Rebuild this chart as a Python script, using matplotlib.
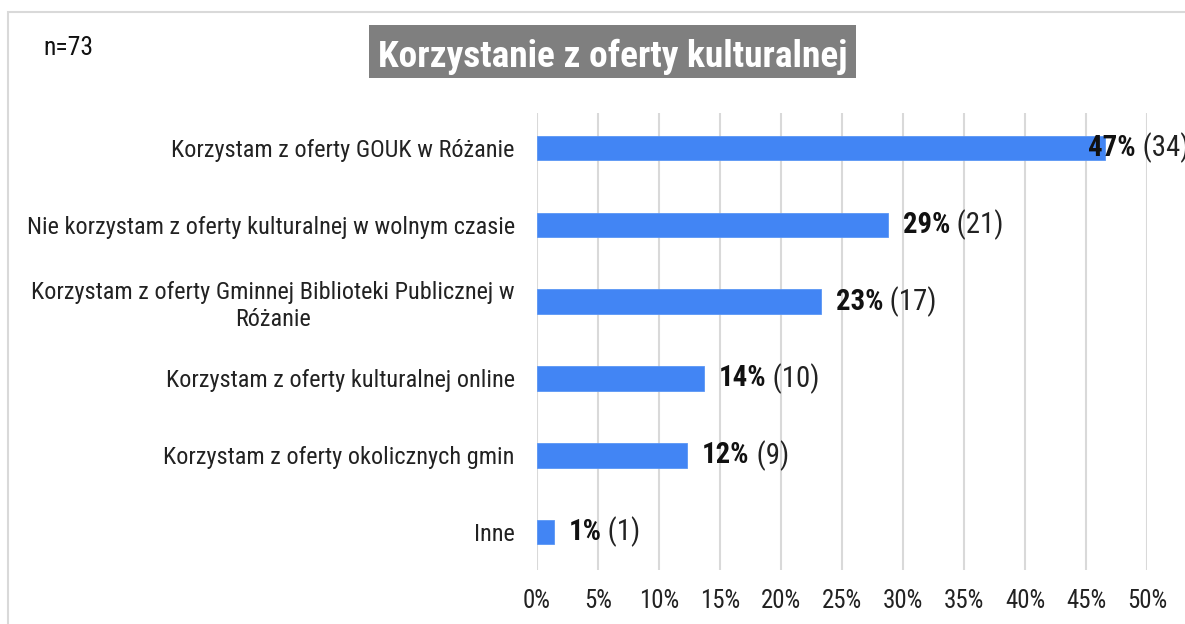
import matplotlib
matplotlib.use("Agg")
import matplotlib.pyplot as plt
from matplotlib.patches import Rectangle
from matplotlib import font_manager

names = {f.name for f in font_manager.fontManager.ttflist}


def pick(cands, default):
    for c in cands:
        if c in names:
            return c
    return default


FONT = pick(['Roboto Condensed', 'Liberation Sans Narrow', 'Arial Narrow', 'Archivo Narrow',
             'PT Sans Narrow'], 'Roboto')
FAM = [FONT, 'DejaVu Sans']
plt.rcParams['font.family'] = FAM

categories = [
    "Korzystam z oferty GOUK w Różanie",
    "Nie korzystam z oferty kulturalnej w wolnym czasie",
    "Korzystam z oferty Gminnej Biblioteki Publicznej w\nRóżanie",
    "Korzystam z oferty kulturalnej online",
    "Korzystam z oferty okolicznych gmin",
    "Inne",
]
counts = [34, 21, 17, 10, 9, 1]
n_total = 73
xticks = [0, 5, 10, 15, 20, 25, 30, 35, 40, 45, 50]
title = "Korzystanie z oferty kulturalnej"

pcts = [c / n_total * 100 for c in counts]

W, H = 1185, 624
fig = plt.figure(figsize=(W / 100, H / 100), dpi=100)
fig.patch.set_facecolor('white')
renderer = fig.canvas.get_renderer()


def width_at10(s, **kw):
    t = fig.text(0, 0, s, fontsize=10, **kw)
    w = t.get_window_extent(renderer).width
    t.remove()
    return w


def fit(s, target, **kw):
    return 10 * target / width_at10(s, **kw)


cat_size = fit(categories[1], 485)
tick_size = fit("50%", 40)
n_size = fit(f"n={n_total}", 50)
title_size = fit(title, 469, fontweight='bold')
lab_size = 10 * 100 / (width_at10("29%", fontweight='bold') + width_at10(" (21)"))

# outer frame
fig.patches.append(Rectangle((8 / W, -0.05), 1.2, 1 - 12 / H + 0.05,
                             transform=fig.transFigure, fill=False,
                             edgecolor='#d9d9d9', linewidth=1.5))

ax = fig.add_axes([537 / W, 1 - 570 / H, (1147 - 537) / W, (570 - 113) / H])
ypos = list(range(len(categories)))
ax.barh(ypos, pcts, height=0.32, color='#4285f4', edgecolor='#5a96f5', linewidth=0.6, zorder=3)
ax.set_xlim(0, 50)
ax.set_ylim(5.494, -0.456)
ax.set_xticks(xticks)
ax.set_xticklabels([f"{t}%" for t in xticks], fontsize=tick_size, color='#222222')
ax.set_yticks(ypos)
ax.set_yticklabels(categories, fontsize=cat_size, color='#222222', ha='right',
                   multialignment='center')
ax.tick_params(axis='y', length=0, pad=16)
ax.tick_params(axis='x', length=0, pad=14)
ax.xaxis.grid(True, color='#d9d9d9', linewidth=1.5, zorder=0)
for s in ax.spines.values():
    s.set_visible(False)

for y, p, c in zip(ypos, pcts, counts):
    x0 = p - 1.4 if p > 40 else p + 1.2
    t = ax.text(x0, y, f"{round(p)}%", fontsize=lab_size, fontweight='bold',
                va='center', ha='left', color='#111111', zorder=5, clip_on=False)
    ax.annotate(f" ({c})", xy=(1, 0.5), xycoords=t, va='center', ha='left',
                fontsize=lab_size, color='#222222', annotation_clip=False)

fig.text(43 / W, 1 - 55 / H, f"n={n_total}", fontsize=n_size, va='baseline', ha='left',
         color='#111111')
fig.patches.append(Rectangle((369 / W, 1 - 78 / H), (856 - 369) / W, 53 / H,
                             transform=fig.transFigure, facecolor='#7f7f7f',
                             edgecolor='none'))
fig.text(612.5 / W, 1 - 67 / H, title, fontsize=title_size, fontweight='bold',
         color='white', ha='center', va='baseline')

fig.savefig('out.png', dpi=100)
